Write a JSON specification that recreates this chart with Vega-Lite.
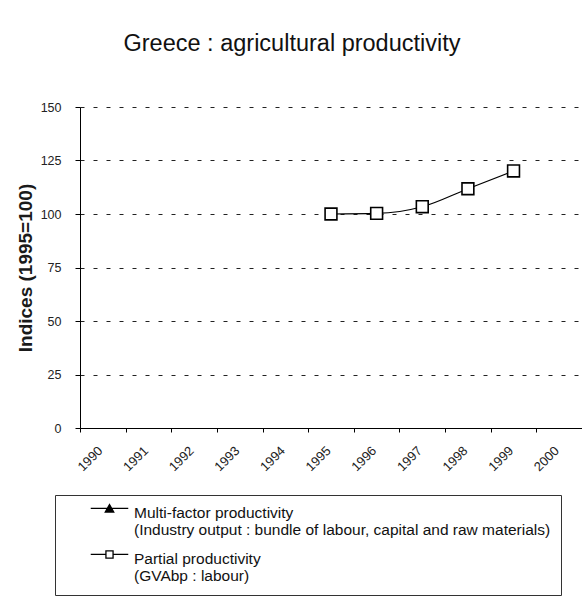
{
  "$schema": "https://vega.github.io/schema/vega-lite/v6.json",
  "autosize": "none",
  "width": 502,
  "height": 321,
  "padding": {"left": 80, "top": 107, "right": 0, "bottom": 170},
  "background": "white",
  "config": {
    "font": "Liberation Sans",
    "view": {"stroke": null}
  },
  "title": {
    "text": "Greece : agricultural productivity",
    "fontSize": 23.5,
    "fontWeight": "normal",
    "color": "#111",
    "anchor": "middle",
    "dx": -39,
    "offset": 46
  },
  "data": {
    "values": [
      {"year": 1995, "series": "Partial productivity", "value": 100},
      {"year": 1996, "series": "Partial productivity", "value": 100.3},
      {"year": 1997, "series": "Partial productivity", "value": 103.4},
      {"year": 1998, "series": "Partial productivity", "value": 111.8},
      {"year": 1999, "series": "Partial productivity", "value": 120.1}
    ]
  },
  "encoding": {
    "x": {
      "field": "year",
      "type": "ordinal",
      "bandPosition": 0.5,
      "scale": {"type": "band", "domain": [1990, 1991, 1992, 1993, 1994, 1995, 1996, 1997, 1998, 1999, 2000], "paddingInner": 0, "paddingOuter": 0},
      "axis": {
        "title": null,
        "tickBand": "extent",
        "labelAngle": -45,
        "labelAlign": "right",
        "labelBaseline": "top",
        "labelFontSize": 13,
        "labelColor": "#222",
        "labelPadding": 12,
        "labelOffset": -7,
        "domainColor": "#000",
        "tickColor": "#000",
        "tickSize": 4,
        "grid": false
      }
    },
    "y": {
      "field": "value",
      "type": "quantitative",
      "scale": {"domain": [0, 150], "nice": false},
      "axis": {
        "title": "Indices (1995=100)",
        "titleFontSize": 19,
        "titleFontWeight": "bold",
        "titleColor": "#1a1a1a",
        "titlePadding": 5,
        "values": [0, 25, 50, 75, 100, 125, 150],
        "labelFontSize": 12.5,
        "labelColor": "#222",
        "labelPadding": 14,
        "tickSize": 5,
        "tickColor": "#000",
        "domainColor": "#000",
        "grid": true,
        "gridColor": "#222",
        "gridDash": [4, 9],
        "gridWidth": 1
      }
    }
  },
  "layer": [
    {
      "mark": {"type": "line", "interpolate": "monotone", "strokeWidth": 1.2},
      "encoding": {
        "stroke": {
          "field": "series",
          "type": "nominal",
          "scale": {"domain": ["Multi-factor productivity", "Partial productivity"], "range": ["#000", "#000"]},
          "legend": {
            "title": null,
            "orient": "none",
            "legendX": -25,
            "legendY": 388,
            "direction": "vertical",
            "padding": 10,
            "strokeColor": "#333",
            "symbolSize": 352,
            "symbolOffset": 34,
            "labelOffset": 14,
            "labelFontSize": 15.5,
            "labelColor": "#111",
            "labelBaseline": "top",
            "labelLimit": 0,
            "rowPadding": 9,
            "labelExpr": "datum.label == 'Partial productivity' ? ['Partial productivity', '(GVAbp : labour)'] : ['Multi-factor productivity', '(Industry output : bundle of labour, capital and raw materials)\u00a0\u00a0\u00a0\u00a0\u00a0\u00a0']",
            "encode": {
              "labels": {
                "update": {
                  "dy": {"value": -10},
                  "lineHeight": {"value": 17.5}
                }
              },
              "symbols": {
                "update": {
                  "shape": {"signal": "datum.label == 'Partial productivity' ? 'M-2,-0.75H-0.38M0.38,-0.75H2M-0.38,-1.13H0.38V-0.37H-0.38Z' : 'M-2,-0.75H2M-0.45,-0.37L0,-1.17L0.45,-0.37Z'"},
                  "fill": {"signal": "datum.label == 'Partial productivity' ? 'white' : 'black'"},
                  "stroke": {"value": "black"},
                  "strokeWidth": {"value": 1.3},
                  "opacity": {"value": 1}
                }
              }
            }
          }
        }
      }
    },
    {
      "mark": {"type": "point", "shape": "square", "filled": true, "fill": "white", "stroke": "black", "strokeWidth": 1.6, "size": 140, "opacity": 1}
    }
  ]
}
